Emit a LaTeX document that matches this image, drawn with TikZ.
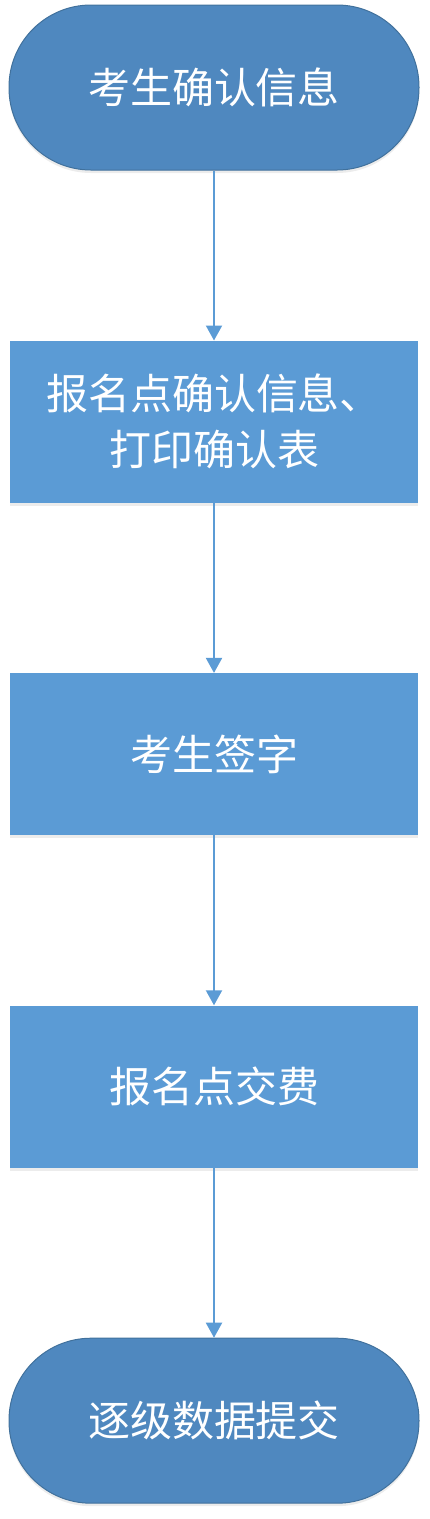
\documentclass[tikz,border=0pt]{standalone}
\usepackage{fontspec}
\newfontfamily\cjk{Noto Sans CJK SC}
\usetikzlibrary{positioning, arrows.meta, shadows}
\definecolor{termfill}{HTML}{4F88BF}
\definecolor{termline}{HTML}{41719C}
\definecolor{stepfill}{HTML}{5B9BD5}
\begin{document}
\begin{tikzpicture}[
    node distance=170pt,
    every node/.style={text=white, font=\cjk\fontsize{42}{56}\selectfont, align=center},
    terminal/.style={draw=termline, line width=1pt, fill=termfill, rounded corners=82pt,
        minimum width=410pt, minimum height=165pt,
        drop shadow={opacity=0.15, shadow xshift=0pt, shadow yshift=-3pt}},
    stepbox/.style={fill=stepfill, minimum width=408pt, minimum height=162pt,
        drop shadow={opacity=0.15, shadow xshift=0pt, shadow yshift=-3pt}},
    flow/.style={draw=stepfill, line width=2pt, -{Triangle[width=16pt,length=15pt]}}
]
    \useasboundingbox (0pt,0pt) rectangle (430pt,-1519pt);
    % Flow chart
    \node[terminal] (start) at (214pt,-87.5pt) {考生确认信息};
    \node[stepbox, below=of start] (confirm) {报名点确认信息、\\打印确认表};
    \node[stepbox, below=of confirm] (sign) {考生签字};
    \node[stepbox, below=of sign] (pay) {报名点交费};
    \node[terminal, below=of pay] (submit) {逐级数据提交};
    % Connectors
    \draw[flow] (start) -- (confirm);
    \draw[flow] (confirm) -- (sign);
    \draw[flow] (sign) -- (pay);
    \draw[flow] (pay) -- (submit);
\end{tikzpicture}
\end{document}
